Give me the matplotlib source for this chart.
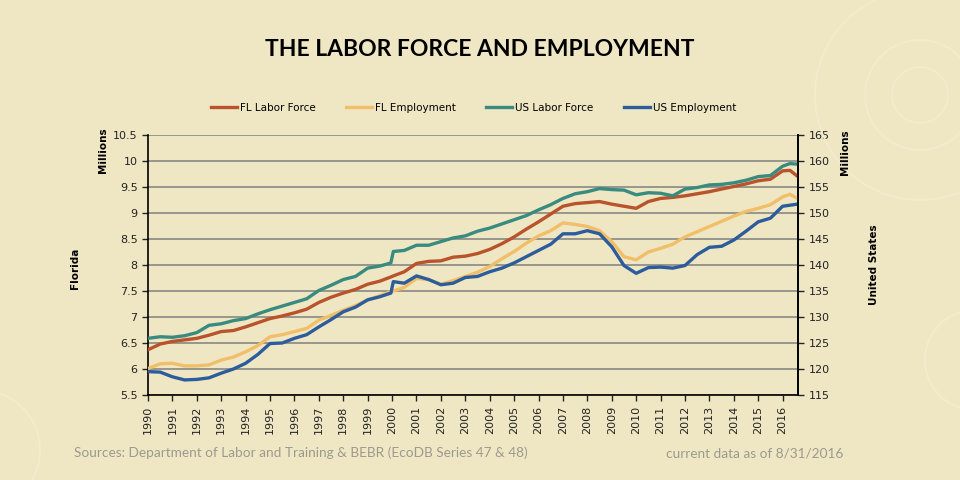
import numpy as np
import matplotlib
matplotlib.use('Agg')
import matplotlib.pyplot as plt
from matplotlib.patches import Circle

# time axis in fractional years (roughly half-yearly)
years = [1990.0, 1990.5, 1991.0, 1991.5, 1992.0, 1992.5, 1993.0, 1993.5, 1994.0, 1994.5,
         1995.0, 1995.5, 1996.0, 1996.5, 1997.0, 1997.5, 1998.0, 1998.5, 1999.0, 1999.5,
         1999.95, 2000.05, 2000.5, 2001.0, 2001.5, 2002.0, 2002.5, 2003.0, 2003.5, 2004.0,
         2004.5, 2005.0, 2005.5, 2006.0, 2006.5, 2007.0, 2007.5, 2008.0, 2008.5, 2009.0,
         2009.5, 2010.0, 2010.5, 2011.0, 2011.5, 2012.0, 2012.5, 2013.0, 2013.5, 2014.0,
         2014.5, 2015.0, 2015.5, 2016.0, 2016.3, 2016.6]

# Florida, millions (left axis)
fl_labor = [6.37, 6.48, 6.53, 6.56, 6.59, 6.65, 6.72, 6.74, 6.81, 6.89,
            6.97, 7.02, 7.08, 7.15, 7.28, 7.38, 7.46, 7.53, 7.63, 7.69,
            7.77, 7.79, 7.87, 8.03, 8.07, 8.08, 8.15, 8.17, 8.22, 8.30,
            8.41, 8.54, 8.69, 8.83, 8.98, 9.13, 9.18, 9.20, 9.22, 9.17,
            9.13, 9.09, 9.22, 9.28, 9.30, 9.33, 9.37, 9.41, 9.46, 9.51,
            9.56, 9.62, 9.65, 9.81, 9.82, 9.71]
fl_emp = [6.01, 6.10, 6.11, 6.06, 6.06, 6.08, 6.17, 6.23, 6.33, 6.45,
          6.62, 6.66, 6.72, 6.78, 6.94, 7.03, 7.13, 7.22, 7.33, 7.41,
          7.49, 7.50, 7.57, 7.74, 7.72, 7.63, 7.70, 7.78, 7.86, 7.97,
          8.12, 8.26, 8.42, 8.56, 8.66, 8.81, 8.78, 8.74, 8.66, 8.45,
          8.16, 8.10, 8.25, 8.32, 8.40, 8.54, 8.64, 8.74, 8.84, 8.94,
          9.03, 9.09, 9.16, 9.31, 9.36, 9.28]

# United States, millions (right axis)
us_labor = [125.9, 126.2, 126.1, 126.4, 127.0, 128.4, 128.7, 129.3, 129.7, 130.6,
            131.4, 132.1, 132.8, 133.5, 135.1, 136.1, 137.2, 137.8, 139.4, 139.8,
            140.4, 142.6, 142.8, 143.8, 143.8, 144.5, 145.2, 145.6, 146.5, 147.1,
            147.9, 148.7, 149.5, 150.6, 151.6, 152.8, 153.7, 154.1, 154.7, 154.5,
            154.4, 153.5, 153.9, 153.8, 153.3, 154.6, 154.9, 155.4, 155.5, 155.8,
            156.3, 157.0, 157.2, 159.0, 159.5, 159.4]
us_emp = [119.5, 119.4, 118.5, 117.9, 118.0, 118.3, 119.2, 120.0, 121.1, 122.8,
          124.9, 125.0, 125.9, 126.6, 128.1, 129.5, 131.0, 131.9, 133.3, 133.9,
          134.6, 136.8, 136.5, 137.9, 137.2, 136.2, 136.5, 137.6, 137.8, 138.7,
          139.4, 140.4, 141.6, 142.8, 144.0, 146.0, 146.0, 146.6, 146.0, 143.5,
          139.9, 138.4, 139.5, 139.6, 139.4, 139.9, 142.0, 143.4, 143.6, 144.8,
          146.5, 148.3, 149.0, 151.3, 151.5, 151.7]

tick_years = list(range(1990, 2017))

bg = '#EFE7C4'
c_fl_labor = '#B9532B'
c_fl_emp = '#F1BE69'
c_us_labor = '#3A8B7F'
c_us_emp = '#2D5C9C'

fig = plt.figure(figsize=(9.6, 4.8), dpi=100, facecolor=bg)

# faint background rings like the slide template (inches)
for cx, cy, r in [(9.2, 3.85, 0.28), (9.2, 3.85, 0.55), (9.2, 3.85, 1.05),
                  (9.75, 1.2, 0.5), (-0.2, 0.3, 0.6)]:
    fig.patches.append(Circle((cx, cy), r, transform=fig.dpi_scale_trans, fill=False,
                              ec='#F2EBCD', lw=1.3, zorder=0))

ax = fig.add_axes([148/960, 1-395/480, 650/960, 260/480])
ax.set_facecolor('none')
ax2 = ax.twinx()

ax.plot(years, fl_labor, color=c_fl_labor, lw=2.4, label='FL Labor Force', zorder=3)
ax.plot(years, fl_emp, color=c_fl_emp, lw=2.4, label='FL Employment', zorder=3)
ax2.plot(years, us_labor, color=c_us_labor, lw=2.4, label='US Labor Force')
ax2.plot(years, us_emp, color=c_us_emp, lw=2.4, label='US Employment')

ax.set_xlim(1990, 2016.63)
ax.set_ylim(5.5, 10.5)
ax2.set_ylim(115, 165)
ax.set_yticks(np.arange(5.5, 10.51, 0.5))
ax.set_yticklabels(['%g' % v for v in np.arange(5.5, 10.51, 0.5)])
ax2.set_yticks(np.arange(115, 166, 5))
ax.set_xticks(tick_years)
ax.set_xticklabels([str(y) for y in tick_years], rotation=90)

ax.grid(axis='y', color='#808080', lw=1.1)
ax.set_axisbelow(True)
for a in (ax, ax2):
    a.spines['top'].set_visible(False)
    for s in ('left', 'right', 'bottom'):
        a.spines[s].set_color('black')
        a.spines[s].set_linewidth(1.2)
    a.tick_params(direction='out', length=4, width=1, labelsize=8, colors='#222222')
ax2.spines['left'].set_visible(False)
ax2.spines['bottom'].set_visible(False)

# axis titles
fig.text(103/960, 1-150/480, 'Millions', rotation=90, ha='center', va='center',
         fontsize=7.5, fontweight='bold')
fig.text(75/960, 1-268/480, 'Florida', rotation=90, ha='center', va='center',
         fontsize=7.5, fontweight='bold')
fig.text(845/960, 1-152/480, 'Millions', rotation=90, ha='center', va='center',
         fontsize=7.5, fontweight='bold')
fig.text(874/960, 1-265/480, 'United States', rotation=90, ha='center', va='center',
         fontsize=7.5, fontweight='bold')

fig.text(0.5, 1-50/480, 'THE LABOR FORCE AND EMPLOYMENT', ha='center', va='center',
         fontsize=16.5, fontweight='bold', family='Lato')

h1, l1 = ax.get_legend_handles_labels()
h2, l2 = ax2.get_legend_handles_labels()
fig.legend(h1 + h2, l1 + l2, loc='center', bbox_to_anchor=(0.493, 1-108/480), ncol=4,
           frameon=False, fontsize=7.5, handlelength=2.5, handletextpad=0.3,
           columnspacing=2.9)

fig.text(74/960, 1-453/480, 'Sources: Department of Labor and Training & BEBR (EcoDB Series 47 & 48)',
         ha='left', va='center', fontsize=9.8, color='#9C9A8E', family='Lato')
fig.text(843/960, 1-453/480, 'current data as of 8/31/2016', ha='right', va='center',
         fontsize=9.8, color='#9C9A8E', family='Lato')

fig.savefig('out.png', dpi=100, facecolor=bg)
